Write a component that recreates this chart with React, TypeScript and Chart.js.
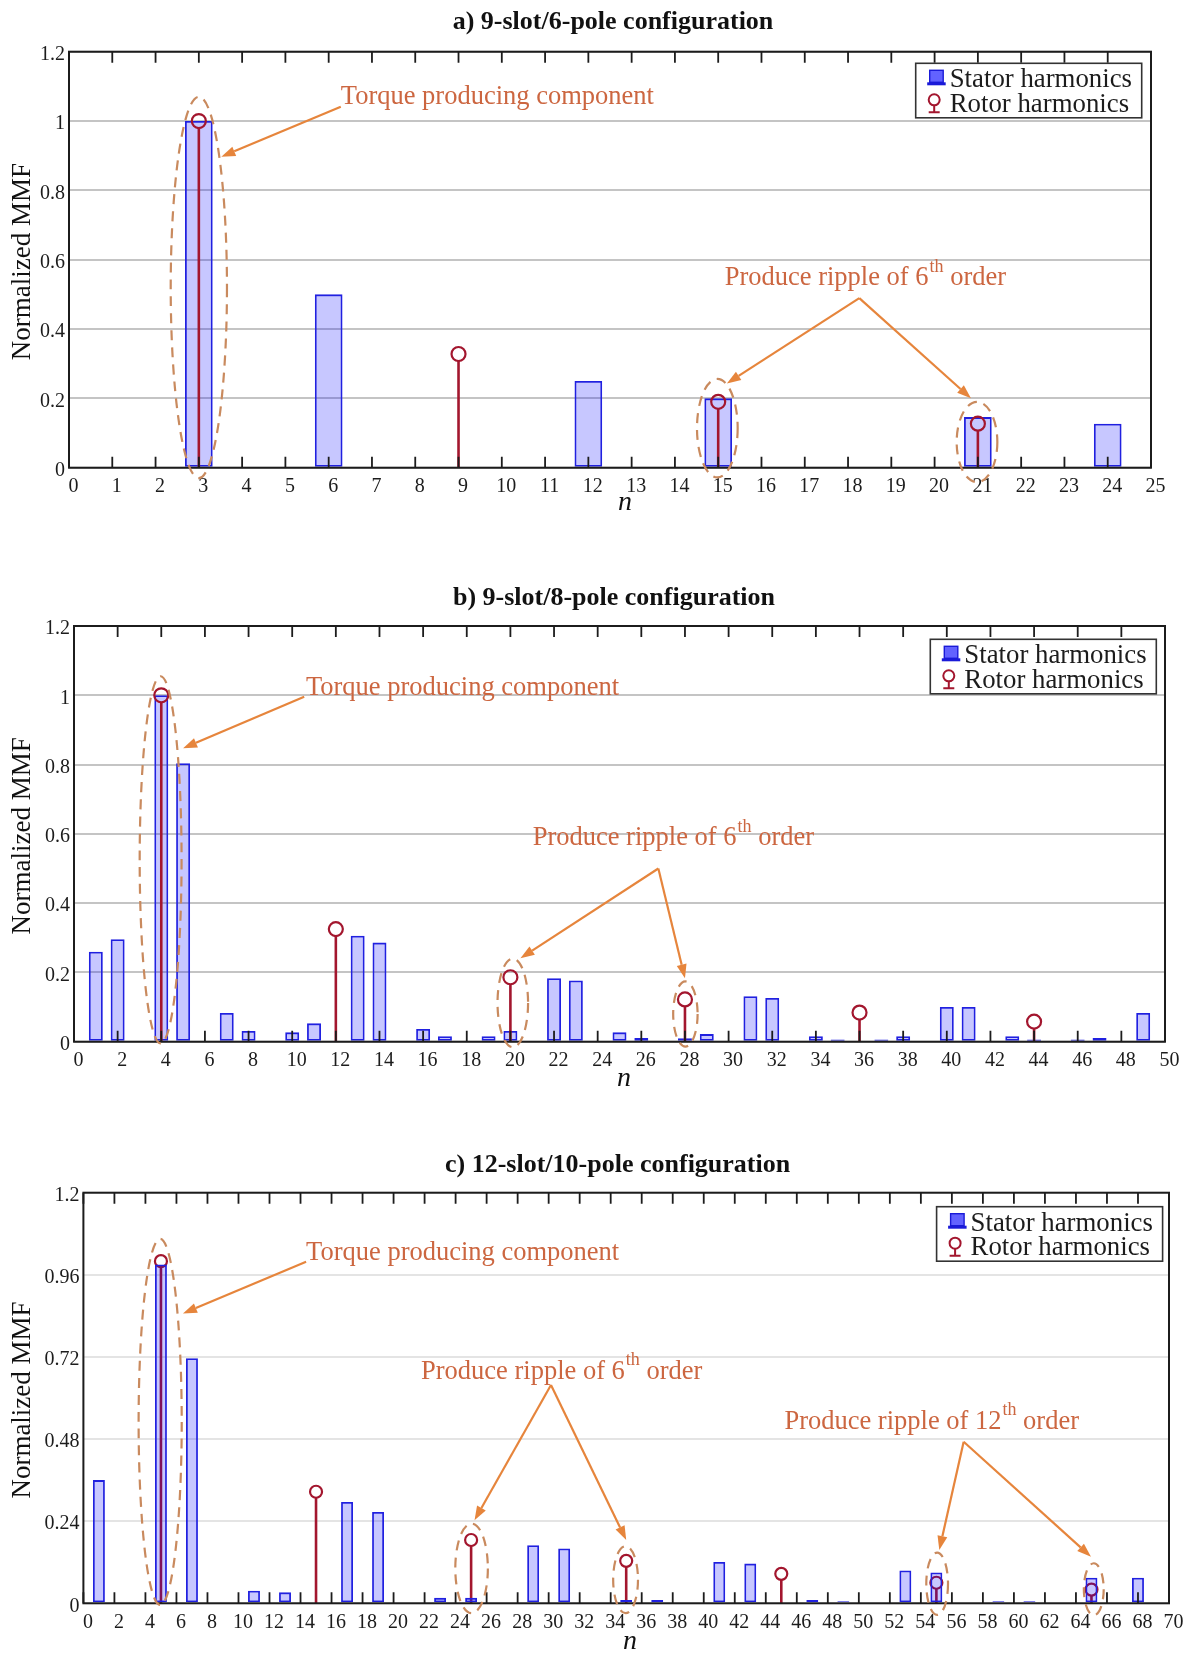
import React, { useEffect, useRef } from "react";
import { Chart, registerables } from "chart.js";

Chart.register(...registerables);

const SERIF = "'Liberation Serif', 'Times New Roman', Times, serif";
const PAGE_W = 1194;

// ---------- a) 9-slot/6-pole configuration ----------
const statorOrdersA = [3, 6, 12, 15, 21, 24];
const statorAmpA = [1.0, 0.5, 0.25, 0.2, 0.146, 0.127];
const rotorOrdersA = [3, 9, 15, 21];
const rotorAmpA = [1.0, 0.328, 0.19, 0.127];

// ---------- b) 9-slot/8-pole configuration ----------
const statorOrdersB = [
  1, 2, 4, 5, 7, 8, 10, 11, 13, 14, 16, 17, 19, 20, 22, 23, 25, 26, 28, 29, 31, 32, 34, 35, 37, 38, 40,
  41, 43, 44, 46, 47, 49,
];
const statorAmpB = [
  0.26, 0.296, 1.0, 0.804, 0.083, 0.031, 0.027, 0.053, 0.306, 0.286, 0.037, 0.016, 0.016, 0.031, 0.183,
  0.177, 0.027, 0.011, 0.01, 0.022, 0.131, 0.126, 0.016, 0.006, 0.006, 0.016, 0.1, 0.1, 0.016, 0.006,
  0.006, 0.011, 0.083,
];
const rotorOrdersB = [4, 12, 20, 28, 36, 44];
const rotorAmpB = [1.0, 0.325, 0.186, 0.122, 0.084, 0.058];

// ---------- c) 12-slot/10-pole configuration ----------
const statorOrdersC = [1, 5, 7, 11, 13, 17, 19, 23, 25, 29, 31, 35, 37, 41, 43, 47, 49, 53, 55, 59, 61, 65, 68];
const statorAmpC = [
  0.36, 0.99, 0.716, 0.037, 0.032, 0.296, 0.267, 0.016, 0.016, 0.17, 0.16, 0.01, 0.01, 0.121, 0.116, 0.01,
  0.006, 0.096, 0.09, 0.006, 0.006, 0.075, 0.075,
];
const rotorOrdersC = [5, 15, 25, 35, 45, 55, 65];
const rotorAmpC = [1.0, 0.326, 0.185, 0.124, 0.086, 0.06, 0.04];

// ---------- axis ticks ----------
const xTicksA = [0, 1, 2, 3, 4, 5, 6, 7, 8, 9, 10, 11, 12, 13, 14, 15, 16, 17, 18, 19, 20, 21, 22, 23, 24, 25];
const xTicksB = [0, 2, 4, 6, 8, 10, 12, 14, 16, 18, 20, 22, 24, 26, 28, 30, 32, 34, 36, 38, 40, 42, 44, 46, 48, 50];
const xTicksC = [
  0, 2, 4, 6, 8, 10, 12, 14, 16, 18, 20, 22, 24, 26, 28, 30, 32, 34, 36, 38, 40, 42, 44, 46, 48, 50, 52, 54, 56,
  58, 60, 62, 64, 66, 68, 70,
];
const yTicksAB = [0, 0.2, 0.4, 0.6, 0.8, 1, 1.2];
const yTicksC = [0, 0.24, 0.48, 0.72, 0.96, 1.2];

// ---------- styling ----------
const BAR_FILL = "rgba(0,0,255,0.22)";
const BAR_EDGE = "#2020e0";
const STEM = "#a3162e";
const NOTE_TEXT = "#cc6640";
const NOTE_ARROW = "#e6853c";
const NOTE_RING = "#c98a5e";
const INK = "#1c1c1c";
const Y_AXIS_W = 60;
const X_AXIS_H = 44;

type Pt = [number, number];
type Ellipse = { x: number; y: number; rx: number; ry: number };
type Note = { x: number; y: number; text: string; sup?: string; post?: string };
type Arrow = { from: Pt; to: Pt };

type PanelCfg = {
  top: number;
  height: number;
  area: { left: number; right: number; top: number; bottom: number };
  title: string;
  titleX: number;
  titleY: number;
  nX: number;
  nY: number;
  xMax: number;
  xTicks: number[];
  yTicks: number[];
  statorOrders: number[];
  statorAmp: number[];
  rotorOrders: number[];
  rotorAmp: number[];
  barFrac: number;
  markerR: number;
  gridColor: string;
  stemsOnTop: boolean;
  legend: { right: number; top: number };
  ellipses: Ellipse[];
  notes: Note[];
  arrows: Arrow[];
};

const RIPPLE = "Produce ripple of ";

const panels: PanelCfg[] = [
  {
    top: 0,
    height: 540,
    area: { left: 69, right: 1151, top: 51.7, bottom: 467.7 },
    title: "a) 9-slot/6-pole configuration",
    titleX: 613,
    titleY: 22,
    nX: 625,
    nY: 503,
    xMax: 25,
    xTicks: xTicksA,
    yTicks: yTicksAB,
    statorOrders: statorOrdersA,
    statorAmp: statorAmpA,
    rotorOrders: rotorOrdersA,
    rotorAmp: rotorAmpA,
    barFrac: 0.64,
    markerR: 7,
    gridColor: "#c4c4c4",
    stemsOnTop: true,
    legend: { right: 9.3, top: 11.6 },
    ellipses: [
      { x: 3, y: 0.52, rx: 0.65, ry: 0.55 },
      { x: 14.98, y: 0.114, rx: 0.47, ry: 0.142 },
      { x: 20.98, y: 0.074, rx: 0.47, ry: 0.116 },
    ],
    notes: [
      { x: 6.28, y: 1.07, text: "Torque producing component" },
      { x: 15.15, y: 0.546, text: RIPPLE + "6", sup: "th", post: " order" },
    ],
    arrows: [
      { from: [6.28, 1.041], to: [3.52, 0.897] },
      { from: [18.26, 0.489], to: [15.2, 0.243] },
      { from: [18.26, 0.489], to: [20.84, 0.2] },
    ],
  },
  {
    top: 560,
    height: 540,
    area: { left: 74, right: 1165, top: 626, bottom: 1041.7 },
    title: "b) 9-slot/8-pole configuration",
    titleX: 614,
    titleY: 598,
    nX: 624,
    nY: 1079,
    xMax: 50,
    xTicks: xTicksB,
    yTicks: yTicksAB,
    statorOrders: statorOrdersB,
    statorAmp: statorAmpB,
    rotorOrders: rotorOrdersB,
    rotorAmp: rotorAmpB,
    barFrac: 0.64,
    markerR: 7,
    gridColor: "#c4c4c4",
    stemsOnTop: true,
    legend: { right: 8.7, top: 13.3 },
    ellipses: [
      { x: 3.97, y: 0.525, rx: 0.96, ry: 0.53 },
      { x: 20.11, y: 0.112, rx: 0.7, ry: 0.128 },
      { x: 28.02, y: 0.08, rx: 0.56, ry: 0.094 },
    ],
    notes: [
      { x: 10.63, y: 1.02, text: "Torque producing component" },
      { x: 21.02, y: 0.587, text: RIPPLE + "6", sup: "th", post: " order" },
    ],
    arrows: [
      { from: [10.55, 0.996], to: [5.0, 0.847] },
      { from: [26.78, 0.5], to: [20.46, 0.241] },
      { from: [26.78, 0.5], to: [28.0, 0.183] },
    ],
  },
  {
    top: 1130,
    height: 525,
    area: { left: 83.4, right: 1169, top: 1192.7, bottom: 1603.3 },
    title: "c) 12-slot/10-pole configuration",
    titleX: 617.6,
    titleY: 1165,
    nX: 630,
    nY: 1642,
    xMax: 70,
    xTicks: xTicksC,
    yTicks: yTicksC,
    statorOrders: statorOrdersC,
    statorAmp: statorAmpC,
    rotorOrders: rotorOrdersC,
    rotorAmp: rotorAmpC,
    barFrac: 0.77,
    markerR: 6,
    gridColor: "#e4e4e4",
    stemsOnTop: false,
    legend: { right: 6.4, top: 14 },
    ellipses: [
      { x: 4.95, y: 0.53, rx: 1.39, ry: 0.535 },
      { x: 25.03, y: 0.102, rx: 1.05, ry: 0.131 },
      { x: 34.96, y: 0.069, rx: 0.8, ry: 0.098 },
      { x: 55.05, y: 0.057, rx: 0.7, ry: 0.091 },
      { x: 65.15, y: 0.041, rx: 0.64, ry: 0.076 },
    ],
    notes: [
      { x: 14.36, y: 1.023, text: "Torque producing component" },
      { x: 21.77, y: 0.677, text: RIPPLE + "6", sup: "th", post: " order" },
      { x: 45.2, y: 0.531, text: RIPPLE + "12", sup: "th", post: " order" },
    ],
    arrows: [
      { from: [14.36, 0.998], to: [6.42, 0.847] },
      { from: [30.15, 0.638], to: [25.22, 0.243] },
      { from: [30.15, 0.638], to: [35.0, 0.185] },
      { from: [56.76, 0.472], to: [55.19, 0.156] },
      { from: [56.76, 0.472], to: [64.97, 0.136] },
    ],
  },
];

// One slot per integer order so the bar ruler spacing equals one harmonic step.
function barPoints(orders: number[], amps: number[], maxN: number) {
  const pts: { x: number; y: number | null }[] = [];
  for (let n = 0; n <= maxN; n++) {
    const k = orders.indexOf(n);
    pts.push({ x: n, y: k >= 0 ? amps[k] : null });
  }
  return pts;
}

function stemPoints(orders: number[], amps: number[]) {
  return orders.map((n, i) => ({ x: n, y: amps[i] }));
}

function drawStems(chart: any, cfg: PanelCfg) {
  const ctx = chart.ctx;
  const meta = chart.getDatasetMeta(1);
  const y0 = chart.scales.y.getPixelForValue(0);
  ctx.save();
  ctx.strokeStyle = STEM;
  ctx.lineWidth = 2.6;
  meta.data.forEach((pt: any) => {
    ctx.beginPath();
    ctx.moveTo(pt.x, y0);
    ctx.lineTo(pt.x, pt.y + cfg.markerR);
    ctx.stroke();
  });
  ctx.restore();
}

function drawFrame(chart: any) {
  const ctx = chart.ctx;
  const { left, right, top, bottom } = chart.chartArea;
  const xs = chart.scales.x;
  ctx.save();
  ctx.strokeStyle = INK;
  ctx.lineWidth = 1.8;
  xs.ticks.forEach((t: any) => {
    const px = xs.getPixelForValue(t.value);
    ctx.beginPath();
    ctx.moveTo(px, bottom);
    ctx.lineTo(px, bottom - 11);
    ctx.moveTo(px, top);
    ctx.lineTo(px, top + 11);
    ctx.stroke();
  });
  ctx.lineWidth = 2;
  ctx.strokeRect(left, top, right - left, bottom - top);
  ctx.restore();
}

function drawArrow(ctx: CanvasRenderingContext2D, x1: number, y1: number, x2: number, y2: number) {
  const ang = Math.atan2(y2 - y1, x2 - x1);
  const len = 14;
  const half = 5;
  const bx = x2 - len * Math.cos(ang);
  const by = y2 - len * Math.sin(ang);
  ctx.beginPath();
  ctx.moveTo(x1, y1);
  ctx.lineTo(bx, by);
  ctx.stroke();
  ctx.beginPath();
  ctx.moveTo(x2, y2);
  ctx.lineTo(bx + half * Math.sin(ang), by - half * Math.cos(ang));
  ctx.lineTo(bx - half * Math.sin(ang), by + half * Math.cos(ang));
  ctx.closePath();
  ctx.fill();
}

function drawNotes(chart: any, cfg: PanelCfg) {
  const ctx = chart.ctx as CanvasRenderingContext2D;
  const xs = chart.scales.x;
  const ys = chart.scales.y;
  const px = (v: number) => xs.getPixelForValue(v);
  const py = (v: number) => ys.getPixelForValue(v);
  ctx.save();
  // dashed rings around the highlighted harmonics
  ctx.strokeStyle = NOTE_RING;
  ctx.lineWidth = 2.2;
  ctx.setLineDash([10, 7]);
  cfg.ellipses.forEach((e) => {
    const cx = px(e.x);
    const cy = py(e.y);
    const rx = Math.abs(px(e.x + e.rx) - cx);
    const ry = Math.abs(py(e.y + e.ry) - cy);
    ctx.beginPath();
    ctx.ellipse(cx, cy, rx, ry, 0, 0, Math.PI * 2);
    ctx.stroke();
  });
  ctx.setLineDash([]);
  // pointer arrows
  ctx.strokeStyle = NOTE_ARROW;
  ctx.fillStyle = NOTE_ARROW;
  ctx.lineWidth = 2.2;
  cfg.arrows.forEach((a) => drawArrow(ctx, px(a.from[0]), py(a.from[1]), px(a.to[0]), py(a.to[1])));
  // captions
  ctx.fillStyle = NOTE_TEXT;
  ctx.textAlign = "left";
  ctx.textBaseline = "middle";
  cfg.notes.forEach((n) => {
    let x = px(n.x);
    const y = py(n.y);
    ctx.font = `26.5px ${SERIF}`;
    ctx.fillText(n.text, x, y);
    x += ctx.measureText(n.text).width;
    if (n.sup) {
      ctx.font = `18px ${SERIF}`;
      ctx.fillText(n.sup, x + 1, y - 11);
      x += ctx.measureText(n.sup).width + 1;
    }
    if (n.post) {
      ctx.font = `26.5px ${SERIF}`;
      ctx.fillText(n.post, x, y);
    }
  });
  ctx.restore();
}

function drawLegend(chart: any, cfg: PanelCfg) {
  const ctx = chart.ctx as CanvasRenderingContext2D;
  const { right, top } = chart.chartArea;
  const w = 226;
  const h = 54.5;
  const x0 = right - cfg.legend.right - w;
  const y0 = top + cfg.legend.top;
  ctx.save();
  ctx.fillStyle = "#ffffff";
  ctx.fillRect(x0, y0, w, h);
  ctx.strokeStyle = "#333333";
  ctx.lineWidth = 1.6;
  ctx.strokeRect(x0, y0, w, h);
  // stator icon: small bar on a base line
  ctx.fillStyle = "rgba(70,70,255,0.85)";
  ctx.fillRect(x0 + 14, y0 + 7, 13.5, 12);
  ctx.strokeStyle = "#1a1ad8";
  ctx.lineWidth = 1.4;
  ctx.strokeRect(x0 + 14, y0 + 7, 13.5, 12);
  ctx.lineWidth = 3;
  ctx.beginPath();
  ctx.moveTo(x0 + 11.5, y0 + 20.5);
  ctx.lineTo(x0 + 30, y0 + 20.5);
  ctx.stroke();
  // rotor icon: stem with circle
  ctx.strokeStyle = STEM;
  ctx.lineWidth = 2;
  ctx.beginPath();
  ctx.arc(x0 + 18.5, y0 + 36.5, 5.5, 0, Math.PI * 2);
  ctx.stroke();
  ctx.beginPath();
  ctx.moveTo(x0 + 18.5, y0 + 42);
  ctx.lineTo(x0 + 18.5, y0 + 49);
  ctx.moveTo(x0 + 13, y0 + 49);
  ctx.lineTo(x0 + 24, y0 + 49);
  ctx.stroke();
  // labels
  ctx.fillStyle = INK;
  ctx.font = `26.8px ${SERIF}`;
  ctx.textAlign = "left";
  ctx.textBaseline = "alphabetic";
  ctx.fillText("Stator harmonics", x0 + 34, y0 + 24);
  ctx.fillText("Rotor harmonics", x0 + 34, y0 + 48.4);
  ctx.restore();
}

function drawTitles(chart: any, cfg: PanelCfg) {
  const ctx = chart.ctx as CanvasRenderingContext2D;
  const { top, bottom } = chart.chartArea;
  ctx.save();
  ctx.fillStyle = "#111111";
  ctx.textAlign = "center";
  ctx.textBaseline = "middle";
  ctx.font = `bold 26px ${SERIF}`;
  ctx.fillText(cfg.title, cfg.titleX, cfg.titleY - cfg.top);
  ctx.font = `italic 28px ${SERIF}`;
  ctx.fillText("n", cfg.nX, cfg.nY - cfg.top);
  ctx.translate(23, (top + bottom) / 2 + 2);
  ctx.rotate(-Math.PI / 2);
  ctx.font = `27px ${SERIF}`;
  ctx.fillText("Normalized MMF", 0, 0);
  ctx.restore();
}

function buildConfig(cfg: PanelCfg): any {
  const a = cfg.area;
  const areaTop = a.top - cfg.top;
  const areaBottom = a.bottom - cfg.top;
  const tickFont = { family: SERIF, size: 20 };
  const decor = {
    id: "panelDecor",
    beforeDatasetsDraw(chart: any) {
      if (!cfg.stemsOnTop) drawStems(chart, cfg);
    },
    afterDatasetsDraw(chart: any) {
      if (cfg.stemsOnTop) drawStems(chart, cfg);
      drawFrame(chart);
      drawNotes(chart, cfg);
      drawLegend(chart, cfg);
      drawTitles(chart, cfg);
    },
  };
  return {
    type: "bar",
    data: {
      datasets: [
        {
          type: "bar",
          label: "Stator harmonics",
          data: barPoints(cfg.statorOrders, cfg.statorAmp, cfg.xMax),
          backgroundColor: BAR_FILL,
          borderColor: BAR_EDGE,
          borderWidth: 1.8,
          borderSkipped: false,
          barPercentage: cfg.barFrac,
          categoryPercentage: 1,
          order: 1,
        },
        {
          type: "scatter",
          label: "Rotor harmonics",
          data: stemPoints(cfg.rotorOrders, cfg.rotorAmp),
          showLine: false,
          pointStyle: "circle",
          pointRadius: cfg.markerR,
          pointHoverRadius: cfg.markerR,
          pointBorderWidth: 2.2,
          pointBorderColor: STEM,
          pointBackgroundColor: "rgba(255,255,255,0)",
          order: cfg.stemsOnTop ? 0 : 2,
        },
      ],
    },
    options: {
      responsive: false,
      maintainAspectRatio: false,
      animation: false,
      devicePixelRatio: 1,
      layout: {
        padding: {
          left: a.left - Y_AXIS_W,
          right: PAGE_W - a.right,
          top: areaTop,
          bottom: cfg.height - areaBottom - X_AXIS_H,
        },
      },
      plugins: {
        legend: { display: false },
        title: { display: false },
        tooltip: { enabled: false },
      },
      scales: {
        x: {
          type: "linear",
          min: 0,
          max: cfg.xMax,
          offset: false,
          grid: { display: false, drawTicks: false, offset: false },
          border: { display: false },
          ticks: {
            font: tickFont,
            color: INK,
            padding: 7,
            labelOffset: 4.5,
            autoSkip: false,
            maxRotation: 0,
            minRotation: 0,
            callback: (v: any) => String(v),
          },
          afterBuildTicks: (s: any) => {
            s.ticks = cfg.xTicks.map((v) => ({ value: v }));
          },
          afterFit: (s: any) => {
            s.height = X_AXIS_H;
          },
        },
        y: {
          type: "linear",
          min: 0,
          max: 1.2,
          grid: { color: cfg.gridColor, lineWidth: 2, drawTicks: false },
          border: { display: false },
          ticks: {
            font: tickFont,
            color: INK,
            padding: 4,
            labelOffset: 3,
            callback: (v: any) => String(v),
          },
          afterBuildTicks: (s: any) => {
            s.ticks = cfg.yTicks.map((v) => ({ value: v }));
          },
          afterFit: (s: any) => {
            s.width = Y_AXIS_W;
          },
        },
      },
    },
    plugins: [decor],
  };
}

function Panel({ cfg }: { cfg: PanelCfg }) {
  const ref = useRef<HTMLCanvasElement | null>(null);
  useEffect(() => {
    const canvas = ref.current;
    if (!canvas) return;
    const chart = new Chart(canvas, buildConfig(cfg));
    return () => chart.destroy();
  }, [cfg]);
  return (
    <canvas
      ref={ref}
      width={PAGE_W}
      height={cfg.height}
      style={{ position: "absolute", left: 0, top: cfg.top, width: PAGE_W, height: cfg.height }}
    />
  );
}

export default function App() {
  return (
    <div style={{ position: "absolute", left: 0, top: 0, width: PAGE_W, height: 1655, background: "#ffffff" }}>
      {panels.map((p, i) => (
        <Panel key={i} cfg={p} />
      ))}
    </div>
  );
}
